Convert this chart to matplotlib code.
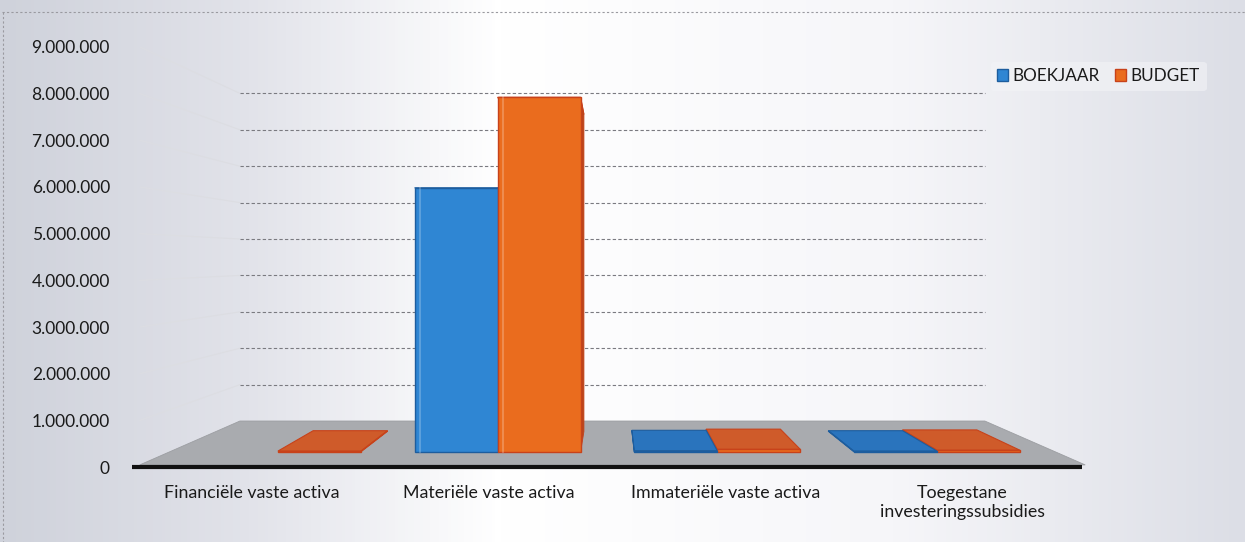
import numpy as np
import matplotlib
matplotlib.use("Agg")
import matplotlib.pyplot as plt
from matplotlib.patches import Polygon, Patch
from matplotlib.colors import LinearSegmentedColormap
from matplotlib.ticker import FuncFormatter, FixedLocator

# ---------------- data ----------------
categories = ["Financiële vaste activa", "Materiële vaste activa",
              "Immateriële vaste activa", "Toegestane\ninvesteringssubsidies"]
series_names = ["BOEKJAAR", "BUDGET"]
boekjaar = [0, 6100000, 30000, 20000]
budget = [20000, 8190000, 60000, 40000]
y_ticks = [0, 1000000, 2000000, 3000000, 4000000, 5000000,
           6000000, 7000000, 8000000, 9000000]

# ---------------- style / layout ----------------
W, H = 1245, 542
FONT = "Lato"
TXT = "#1a1a1a"
COLORS = {
    "BOEKJAAR": dict(front="#2f86d3", edge="#1d5d9e", top="#2a74bd", side="#1f5f9f"),
    "BUDGET": dict(front="#ea6c1e", edge="#c8421a", top="#cf5b2a", side="#b8461a"),
}

fig = plt.figure(figsize=(W / 100, H / 100), dpi=100)

# background (scanned page look)
bg = fig.add_axes([0, 0, 1, 1], zorder=-2)
cmap = LinearSegmentedColormap.from_list(
    "bg", [(0.0, "#cfd2db"), (0.2, "#e2e3ea"), (0.4, "#ffffff"),
           (0.72, "#f6f6f9"), (1.0, "#dcdee6")])
grad = np.linspace(0, 1, 400).reshape(1, -1)
bg.imshow(grad, aspect="auto", cmap=cmap, extent=[0, W, H, 0])
bg.set_xlim(0, W)
bg.set_ylim(H, 0)
bg.axis("off")
bg.plot([2, W], [12, 12], color="#9a9aa0", lw=0.8, ls=(0, (2, 2)))
bg.plot([3, 3], [12, H], color="#9a9aa0", lw=0.8, ls=(0, (2, 2)))

# main axes (front plane): y=0 at px 467, 9M at px 47
ax_left, ax_right, ax_bottom, ax_top = 110, 1100, 467, 47
ax = fig.add_axes([ax_left / W, 1 - ax_bottom / H,
                   (ax_right - ax_left) / W, (ax_bottom - ax_top) / H])
ax.patch.set_alpha(0)
PXX = 236.7                      # pixels per category unit
X0PX = 252                       # pixel position of category 0 label
ax.set_xlim((ax_left - X0PX) / PXX, (ax_right - X0PX) / PXX)
ax.set_ylim(0, 9000000)
PXY = (ax_bottom - ax_top) / 9000000.0


def px2x(px):
    return (px - X0PX) / PXX


def px2y(py):
    return (ax_bottom - py) / PXY


# perspective: points scale toward a vanishing centre with depth factor s
VPX, VPY = px2x(612), px2y(258)
S_BAR_FRONT, S_BAR_BACK, S_WALL, S_FLOOR_FRONT = 0.928, 0.83, 0.78, 0.99


def proj(xv, yv, s):
    return VPX + (np.asarray(xv) - VPX) * s, VPY + (np.asarray(yv) - VPY) * s


PLOT_L, PLOT_R = px2x(135), px2x(1090)

# floor
fl = [proj(PLOT_L, 0, S_WALL), proj(PLOT_R, 0, S_WALL),
      proj(PLOT_R, 0, S_FLOOR_FRONT), proj(PLOT_L, 0, S_FLOOR_FRONT)]
ax.add_patch(Polygon(fl, closed=True, facecolor="#a9abaf", edgecolor="#9c9ea2",
                     lw=0.6, zorder=1, clip_on=False))

# back wall gridlines + faint side wall lines
for t in y_ticks:
    bx0, by = proj(PLOT_L, t, S_WALL)
    bx1, _ = proj(PLOT_R, t, S_WALL)
    if t > 0:
        ax.plot([bx0, bx1], [by, by], color="#7a7a80", lw=0.8,
                ls=(0, (3, 2)), zorder=1.5)
        ax.plot([px2x(140), bx0], [t, by], color="#dcdde2", lw=0.8, zorder=1.2)

# bars
x = np.arange(len(categories))
bw = 0.378                      # width of one bar (front-plane units)
bars = []
for name, vals, off in [("BOEKJAAR", boekjaar, -1), ("BUDGET", budget, 0)]:
    for xi, v in zip(x, vals):
        if v > 0:
            bars.append((xi, name, xi + off * bw, xi + (off + 1) * bw, v))


def order_key(b):
    # paint far-from-vanishing-side first
    xi, name, l, r, v = b
    centre = (l + r) / 2
    return (xi, -abs(centre - VPX))


for xi, name, l, r, v in sorted(bars, key=order_key):
    c = COLORS[name]
    fl_, fb = proj(l, 0, S_BAR_FRONT)
    fr_, _ = proj(r, 0, S_BAR_FRONT)
    _, ft = proj(l, v, S_BAR_FRONT)
    bl_, bt = proj(l, v, S_BAR_BACK)
    br_, bb = proj(r, 0, S_BAR_BACK)
    _, btop = proj(r, v, S_BAR_BACK)
    # top face
    ax.add_patch(Polygon([[fl_, ft], [fr_, ft], [br_, btop], [bl_, btop]],
                         closed=True, facecolor=c["top"], edgecolor=c["edge"],
                         lw=0.8, zorder=3))
    # visible side face
    if fr_ < VPX:
        side = [[fr_, fb], [fr_, ft], [br_, btop], [br_, bb]]
    else:
        side = [[fl_, fb], [fl_, ft], [bl_, btop], [bl_, bb]]
    ax.add_patch(Polygon(side, closed=True, facecolor=c["side"],
                         edgecolor=c["edge"], lw=0.6, zorder=3))
    # front face
    ax.bar(fl_, ft - fb, width=fr_ - fl_, bottom=fb, align="edge",
           color=c["front"], edgecolor=c["edge"], lw=1.0, zorder=3)
    if ft - fb > 300000:
        ax.plot([fl_ + (fr_ - fl_) * 0.07] * 2, [fb, ft], color="white",
                alpha=0.22, lw=1.5, zorder=3)

# baseline
ax.plot([px2x(132), px2x(1082)], [0, 0], color="#111111",
        lw=3, solid_capstyle="butt", zorder=5, clip_on=False)

# axes styling
for s in ax.spines.values():
    s.set_visible(False)
ax.yaxis.set_major_locator(FixedLocator(y_ticks))
ax.yaxis.set_major_formatter(FuncFormatter(lambda v, p: f"{v:,.0f}".replace(",", ".")))
ax.tick_params(axis="y", length=0, pad=0, labelsize=12.5, labelcolor=TXT)
ax.set_xticks(x)
ax.set_xticklabels(categories, fontsize=12.8, color=TXT, linespacing=1.25)
ax.tick_params(axis="x", length=0, pad=13)
for lab in ax.get_yticklabels() + ax.get_xticklabels():
    lab.set_fontfamily(FONT)

handles = [Patch(facecolor=COLORS[n]["front"], edgecolor=COLORS[n]["edge"])
           for n in series_names]
leg = fig.legend(handles, series_names, loc="upper left",
                 bbox_to_anchor=(982 / W, 1 - 53 / H), ncol=2,
                 frameon=True, facecolor="#f3f4f7", edgecolor="none",
                 framealpha=0.6, handlelength=0.6, handleheight=0.7,
                 handletextpad=0.3, columnspacing=0.9,
                 prop={"family": FONT, "size": 12.3})
for t in leg.get_texts():
    t.set_color(TXT)

fig.savefig("out.png", dpi=100)
